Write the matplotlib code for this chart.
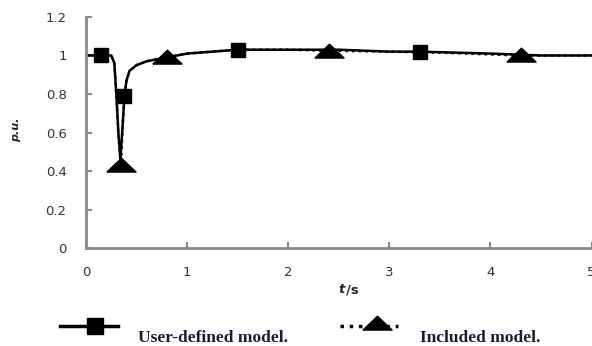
import matplotlib
matplotlib.use("Agg")
import matplotlib.pyplot as plt
from matplotlib.lines import Line2D

# user-defined model curve (t in s, value in p.u.)
t_user = [0, 0.15, 0.25, 0.28, 0.30, 0.32, 0.34, 0.36, 0.38, 0.40, 0.43, 0.5, 0.6,
          0.8, 1.0, 1.5, 2.0, 2.5, 3.0, 3.3, 4.0, 4.5, 5.0]
v_user = [1.0, 1.0, 1.0, 0.96, 0.80, 0.60, 0.46, 0.62, 0.79, 0.87, 0.92, 0.95, 0.97,
          0.99, 1.01, 1.03, 1.03, 1.03, 1.02, 1.02, 1.01, 1.0, 1.0]
user_marks = [1, 8, 15, 19]

# included model curve
t_incl = [0, 0.15, 0.25, 0.28, 0.30, 0.32, 0.345, 0.36, 0.38, 0.40, 0.43, 0.5, 0.6,
          0.8, 1.0, 1.5, 2.0, 2.4, 3.0, 3.5, 4.3, 5.0]
v_incl = [1.0, 1.0, 1.0, 0.96, 0.79, 0.59, 0.43, 0.61, 0.79, 0.87, 0.92, 0.95, 0.97,
          0.99, 1.01, 1.03, 1.03, 1.025, 1.02, 1.015, 1.0, 1.0]
incl_marks = [6, 13, 17, 20]

x_ticks = [0, 1, 2, 3, 4, 5]
y_ticks = [0, 0.2, 0.4, 0.6, 0.8, 1.0, 1.2]
y_labels = ["0", "0.2", "0.4", "0.6", "0.8", "1", "1.2"]

tri = [(-1, -0.45), (1, -0.45), (0, 0.5), (-1, -0.45)]
grey = "#8a8a8a"

fig = plt.figure(figsize=(5.92, 3.46), dpi=100)
fig.patch.set_facecolor("white")
ax = fig.add_axes([0.1453, 0.2832, 0.8540, 0.6677])

ax.plot(t_incl, v_incl, color="black", linewidth=1.8, linestyle=":",
        marker=tri, markersize=21, markevery=incl_marks, markeredgecolor="black")
ax.plot(t_user, v_user, color="black", linewidth=1.8,
        marker="s", markersize=10, markevery=user_marks)

ax.set_xlim(0, 5)
ax.set_ylim(0, 1.2)
ax.set_xticks(x_ticks)
ax.set_yticks(y_ticks)
ax.set_yticklabels(y_labels)

for side in ["top", "right"]:
    ax.spines[side].set_visible(False)
for side in ["left", "bottom"]:
    ax.spines[side].set_color(grey)
    ax.spines[side].set_linewidth(2)
ax.tick_params(direction="in", length=4, width=1.5, color=grey,
               labelsize=9.5, labelcolor="#333333", pad=13)
ax.tick_params(axis="y", pad=14)

fig.text(0.027, 0.625, "p.u.", rotation=90, style="italic", weight="bold",
         fontsize=8, color="#222222", ha="center", va="center")
# x label: italic t, upright /s
fig.text(0.583, 0.162, "t", fontsize=9.5, weight="bold", style="italic",
         color="#222222", ha="right", va="center")
fig.text(0.584, 0.162, "/s", fontsize=9.5, weight="bold",
         color="#222222", ha="left", va="center")

# legend drawn below the axes
fig.add_artist(Line2D([60 / 592, 118 / 592], [1 - 326 / 346] * 2, transform=fig.transFigure,
                      color="black", linewidth=2.5))
fig.add_artist(Line2D([95 / 592], [1 - 326 / 346], transform=fig.transFigure,
                      color="black", marker="s", markersize=11))
fig.add_artist(Line2D([340 / 592, 398 / 592], [1 - 326 / 346] * 2, transform=fig.transFigure,
                      color="black", linewidth=2.5, linestyle=":"))
fig.add_artist(Line2D([377 / 592], [1 - 323 / 346], transform=fig.transFigure,
                      color="black", marker=tri, markersize=21))
fig.text(138 / 592, 1 - 338 / 346, "User-defined model.", family="Liberation Serif",
         weight="bold", fontsize=12.5, color="#1a1a3a", va="center")
fig.text(420 / 592, 1 - 338 / 346, "Included model.", family="Liberation Serif",
         weight="bold", fontsize=12.5, color="#1a1a3a", va="center")

fig.savefig("out.png", dpi=100, facecolor="white")
